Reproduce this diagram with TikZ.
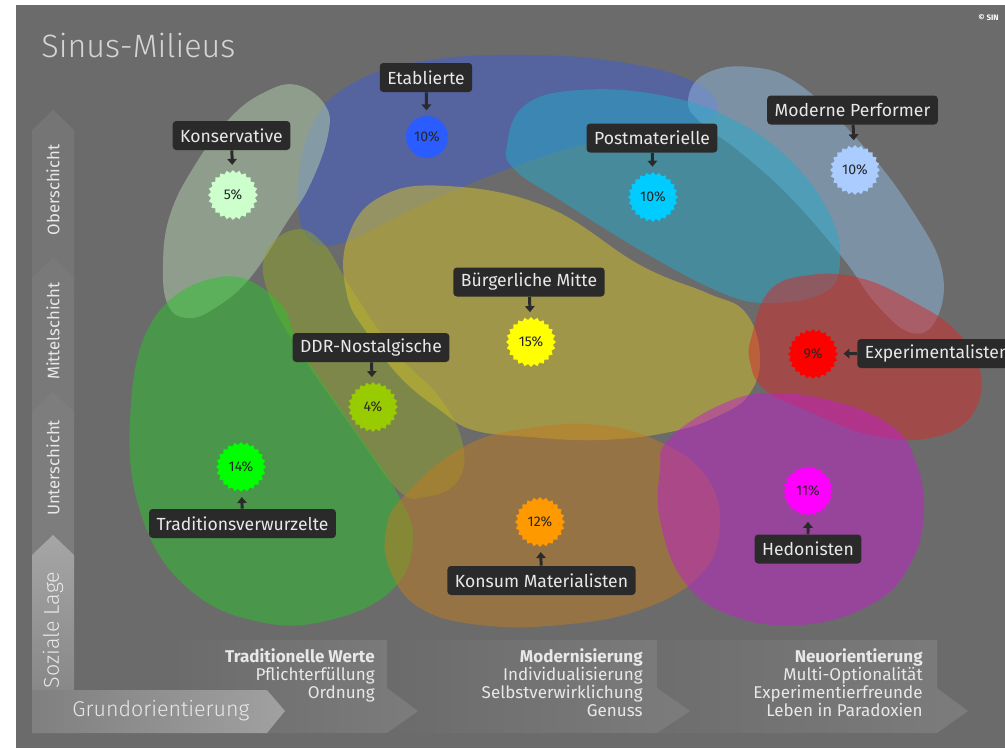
\documentclass[tikz,border=0pt]{standalone}
\usepackage{fontspec}
\setmainfont{Fira Sans}
\newfontfamily\thinfont{Fira Sans Light}
\usetikzlibrary{shapes.geometric, arrows.meta}

\definecolor{bg}{RGB}{107,107,107}
\definecolor{bandgray}{RGB}{117,117,117}
\definecolor{seggray}{RGB}{124,124,124}
\definecolor{boxgray}{RGB}{42,42,42}
\definecolor{lighttext}{RGB}{232,232,232}
\definecolor{cKons}{RGB}{179,209,173}
\definecolor{cEtab}{RGB}{65,93,209}
\definecolor{cPost}{RGB}{37,169,203}
\definecolor{cPerf}{RGB}{143,183,223}
\definecolor{cMitte}{RGB}{213,193,43}
\definecolor{cDDR}{RGB}{143,163,43}
\definecolor{cTrad}{RGB}{43,193,43}
\definecolor{cKonsum}{RGB}{193,123,33}
\definecolor{cExp}{RGB}{213,43,43}
\definecolor{cHed}{RGB}{193,33,203}
\definecolor{sKons}{RGB}{204,255,204}
\definecolor{sEtab}{RGB}{42,92,255}
\definecolor{sPost}{RGB}{0,204,255}
\definecolor{sPerf}{RGB}{170,204,255}
\definecolor{sMitte}{RGB}{255,255,0}
\definecolor{sDDR}{RGB}{153,204,0}
\definecolor{sTrad}{RGB}{0,255,0}
\definecolor{sKonsum}{RGB}{255,153,0}
\definecolor{sExp}{RGB}{255,0,0}
\definecolor{sHed}{RGB}{255,0,255}

\tikzset{
  blob/.style = {fill = #1, fill opacity = 0.5},
  milieu/.style = {fill = boxgray, text = lighttext, rounded corners = 2pt, minimum height = 0.58cm, inner xsep = 0.15cm, inner ysep = 0pt, font = \fontsize{10}{12}\selectfont},
  badge/.style = {star, star points = 24, star point ratio = 1.13, minimum size = 1.0cm, inner sep = 0pt, fill = #1, text = black!85, font = \fontsize{8}{9}\selectfont},
  pointer/.style = {draw = boxgray, line width = 1.7pt, -{Triangle[length = 3.4pt, width = 5.4pt]}, shorten > = 3pt}
}

\begin{document}
\begin{tikzpicture}[x = 0.02cm, y = -0.02cm, axtext/.style = {text = lighttext, inner sep = 0pt, font = \fontsize{9.7}{10.4}\selectfont, align = right}]
\useasboundingbox (0,0) rectangle (1005,748);
\fill[white] (0,0) rectangle (1005,748);
\fill[bg] (16,5) rectangle (1005,748);

\fill[blob = cEtab] plot[smooth cycle, tension = 0.7] coordinates {(310,240) (298,195) (312,125) (355,82) (430,60) (530,55) (620,62) (690,80) (718,105) (700,122) (640,132) (570,148) (505,170) (455,190) (400,215) (345,242)};
\fill[blob = cPerf] plot[smooth cycle, tension = 0.7] coordinates {(688,100) (705,74) (750,67) (800,85) (865,148) (915,215) (942,270) (937,318) (912,333) (877,305) (842,257) (790,197) (740,152) (700,122)};
\fill[blob = cPost] plot[smooth cycle, tension = 0.7] coordinates {(507,145) (525,105) (580,90) (660,95) (730,118) (790,160) (830,215) (840,262) (825,292) (770,303) (720,292) (640,250) (560,200) (515,170)};
\fill[blob = cKons] plot[smooth cycle, tension = 0.7] coordinates {(297,85) (325,105) (328,135) (310,185) (287,222) (250,278) (215,308) (188,318) (168,305) (163,265) (170,215) (195,165) (230,118) (265,92)};
\fill[blob = cDDR] plot[smooth cycle, tension = 0.7] coordinates {(293,230) (322,242) (352,290) (395,352) (440,398) (463,445) (457,482) (425,497) (398,490) (355,432) (300,352) (270,298) (265,255)};
\fill[blob = cMitte] plot[smooth cycle, tension = 0.7] coordinates {(347,240) (380,197) (447,186) (547,207) (640,265) (707,293) (745,312) (760,355) (750,393) (720,415) (670,432) (600,440) (530,437) (473,430) (440,410) (400,377) (367,333) (347,295)};
\fill[blob = cTrad] plot[smooth cycle, tension = 0.7] coordinates {(153,320) (220,277) (277,300) (303,353) (353,427) (397,493) (413,540) (392,590) (330,620) (260,622) (190,590) (143,520) (130,420)};
\fill[blob = cKonsum] plot[smooth cycle, tension = 0.7] coordinates {(403,497) (463,447) (530,428) (600,425) (660,442) (705,475) (720,525) (700,575) (640,610) (560,625) (480,625) (420,608) (390,570) (386,530)};
\fill[blob = cExp] plot[smooth cycle, tension = 0.7] coordinates {(752,335) (770,290) (810,275) (860,278) (910,300) (955,330) (980,370) (972,415) (930,438) (870,435) (810,412) (765,390) (750,362)};
\fill[blob = cHed] plot[smooth cycle, tension = 0.7] coordinates {(668,440) (720,405) (773,393) (840,403) (893,427) (915,460) (924,510) (910,565) (870,605) (800,625) (730,615) (683,580) (660,520) (660,470)};

\fill[bandgray] (32,130) -- (53,110) -- (74,130) -- (74,300) -- (32,300) -- cycle;
\fill[bandgray!97!white] (32,278) -- (53,257) -- (74,278) -- (74,430) -- (32,430) -- cycle;
\fill[bandgray!94!white] (32,412) -- (53,392) -- (74,412) -- (74,570) -- (32,570) -- cycle;
\shade[left color = bg, right color = seggray] (600,640) -- (937,640) -- (937,688) -- (968,711) -- (937,733) -- (600,733) -- cycle;
\shade[left color = bg, right color = seggray] (390,640) -- (657,640) -- (657,688) -- (690,711) -- (657,733) -- (390,733) -- cycle;
\shade[left color = bg, right color = seggray] (170,640) -- (387,640) -- (387,688) -- (418,711) -- (387,733) -- (170,733) -- cycle;
\shade[top color = black!35!white, bottom color = black!50!white] (32,555) -- (53,535) -- (74,555) -- (74,733) -- (32,733) -- cycle;
\shade[left color = black!50!white, right color = black!37!white] (32,690) -- (267,690) -- (285,711) -- (267,733) -- (32,733) -- cycle;

\node[anchor = base west, inner sep = 0pt, text = lighttext!92!black, font = \thinfont\fontsize{18.4}{20}\selectfont] (t) at (41,57) {Sinus-Milieus};
\node[anchor = west, inner sep = 0pt, text = white, font = \fontsize{4.5}{5}\selectfont\bfseries] (c) at (978,18) {© SIN};

\node[rotate = 90, text = lighttext, inner sep = 0pt, font = \fontsize{9.5}{11}\selectfont] (s1) at (53,190) {Oberschicht};
\node[rotate = 90, text = lighttext, inner sep = 0pt, font = \fontsize{9.5}{11}\selectfont] (s2) at (53,331) {Mittelschicht};
\node[rotate = 90, text = lighttext, inner sep = 0pt, font = \fontsize{9.5}{11}\selectfont] (s3) at (53,468) {Unterschicht};
\node[rotate = 90, text = lighttext, inner sep = 0pt, font = \thinfont\fontsize{12.2}{14}\selectfont] (s4) at (53,630) {Soziale Lage};
\node[anchor = west, text = lighttext, inner sep = 0pt, font = \thinfont\fontsize{12.2}{14}\selectfont] (g) at (72,711) {Grundorientierung};

\node[axtext, anchor = north east] (o1) at (375,648) {\textbf{Traditionelle Werte}\\Pflichterfüllung\\Ordnung};
\node[axtext, anchor = north east] (o2) at (643,648) {\textbf{Modernisierung}\\Individualisierung\\Selbstverwirklichung\\Genuss};
\node[axtext, anchor = north east] (o3) at (923,648) {\textbf{Neuorientierung}\\Multi-Optionalität\\Experimentierfreunde\\Leben in Paradoxien};

\node[milieu] (v1) at (231.5,135.5) {Konservative};
\node[milieu] (v2) at (426,77.5) {Etablierte};
\node[milieu] (v3) at (652,138) {Postmaterielle};
\node[milieu] (v4) at (852.5,110) {Moderne Performer};
\node[milieu] (v5) at (529,282) {Bürgerliche Mitte};
\node[milieu] (v6) at (371,347.5) {DDR-Nostalgische};
\node[milieu] (v7) at (242.5,523.5) {Traditionsverwurzelte};
\node[milieu] (v8) at (541.5,580.5) {Konsum Materialisten};
\node[milieu, anchor = west] (v9) at (857,353.5) {Experimentalisten};
\node[milieu] (v10) at (808,549) {Hedonisten};

\node[badge = sKons] (p1) at (233,195) {5\%};
\node[circle, minimum size = 0.84cm, inner sep = 0pt, fill = sEtab, text = black!85, font = \fontsize{8}{9}\selectfont] (p2) at (427,137) {10\%};
\node[badge = sPost] (p3) at (653,197) {10\%};
\node[badge = sPerf] (p4) at (855,170) {10\%};
\node[badge = sMitte] (p5) at (531,342) {15\%};
\node[badge = sDDR] (p6) at (373,407) {4\%};
\node[badge = sTrad] (p7) at (241,467) {14\%};
\node[badge = sKonsum] (p8) at (540,522) {12\%};
\node[badge = sExp] (p9) at (813,354) {9\%};
\node[badge = sHed] (p10) at (808,491) {11\%};

\draw[pointer] (v1) -- (p1);
\draw[pointer] (v2) -- (p2);
\draw[pointer] (v3) -- (p3);
\draw[pointer] (v4) -- (p4);
\draw[pointer] (v5) -- (p5);
\draw[pointer] (v6) -- (p6);
\draw[pointer] (v7) -- (p7);
\draw[pointer] (v8) -- (p8);
\draw[pointer] (v9.west) -- (p9);
\draw[pointer] (v10) -- (p10);
\end{tikzpicture}
\end{document}
